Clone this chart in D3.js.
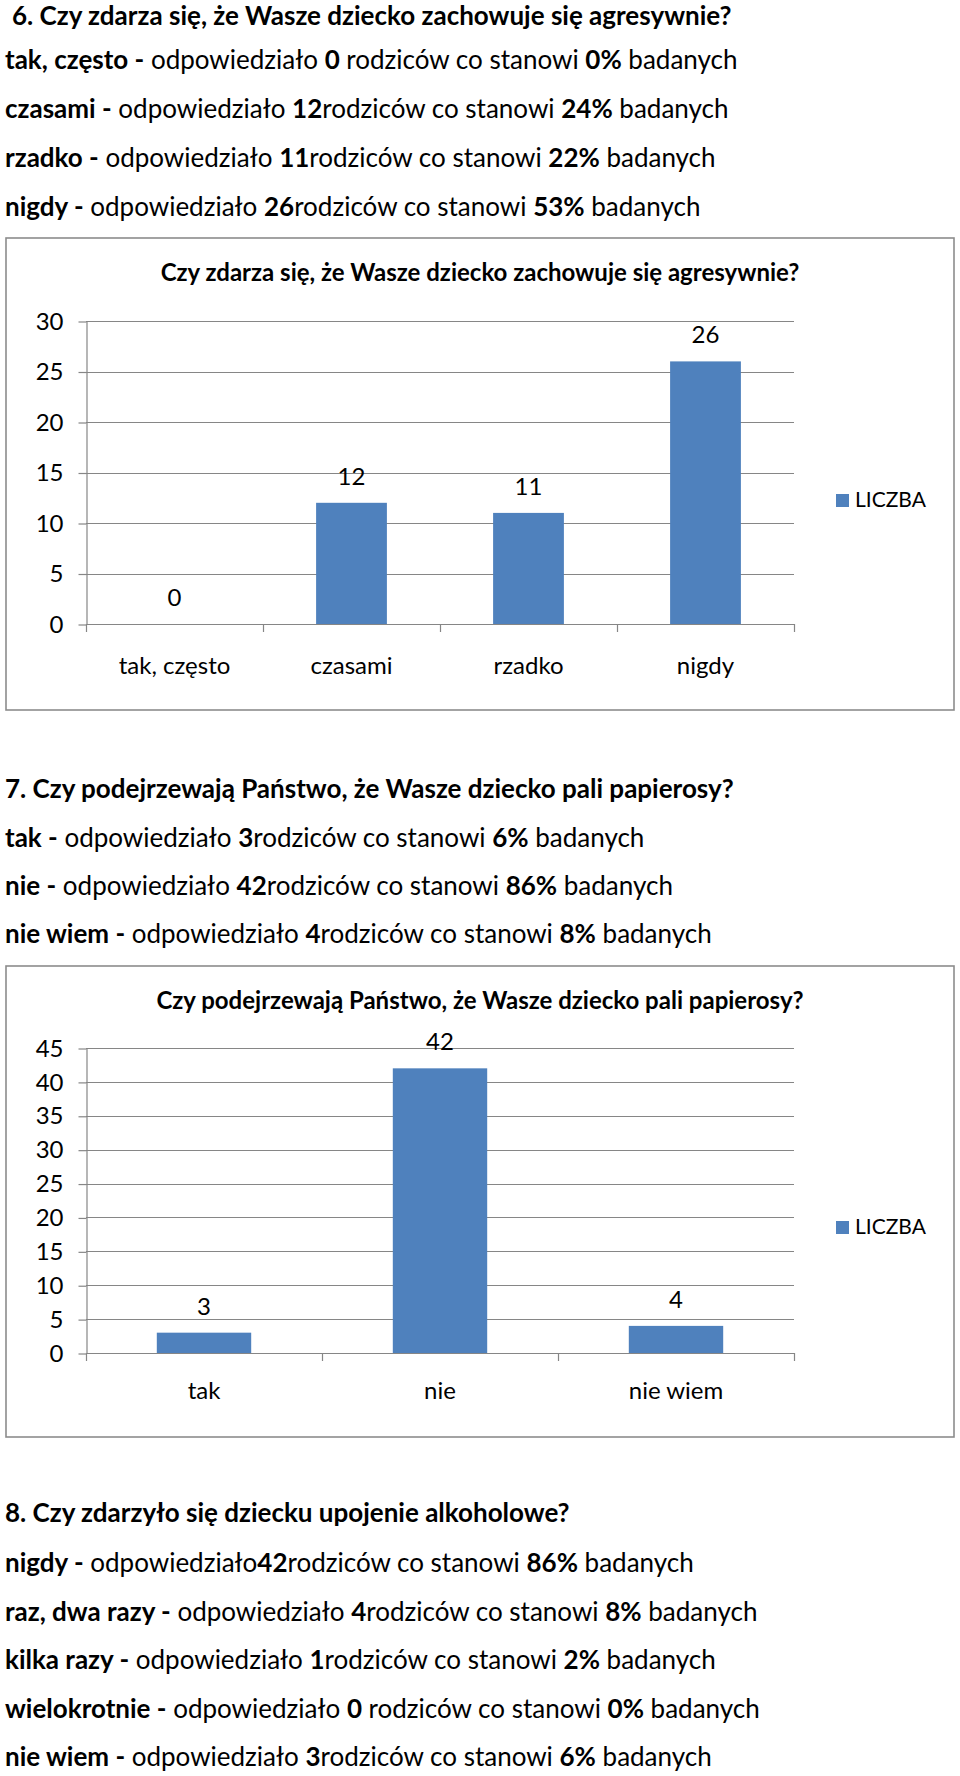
<!DOCTYPE html>
<html>
<head>
<meta charset="utf-8">
<script src="https://cdn.jsdelivr.net/npm/d3@7"></script>
<style>
  html, body { margin: 0; padding: 0; background: #fff; }
  svg { display: block; }
  text { font-family: Lato, "Open Sans", sans-serif; fill: #000; white-space: pre; }
</style>
</head>
<body>
<svg id="page" width="960" height="1776"></svg>
<script>
// ---------- DATA ----------
const q6Title = "Czy zdarza się, że Wasze dziecko zachowuje się agresywnie?";
const q6Categories = ["tak, często", "czasami", "rzadko", "nigdy"];
const q6Counts = [0, 12, 11, 26];
const q6Percents = [0, 24, 22, 53];
const q6SpaceBefore = [true, true, true, true];
const q6SpaceAfter = [true, false, false, false];
const q6Ticks = [0, 5, 10, 15, 20, 25, 30];

const q7Title = "Czy podejrzewają Państwo, że Wasze dziecko pali papierosy?";
const q7Categories = ["tak", "nie", "nie wiem"];
const q7Counts = [3, 42, 4];
const q7Percents = [6, 86, 8];
const q7SpaceBefore = [true, true, true];
const q7SpaceAfter = [false, false, false];
const q7Ticks = [0, 5, 10, 15, 20, 25, 30, 35, 40, 45];

const q8Title = "Czy zdarzyło się dziecku upojenie alkoholowe?";
const q8Categories = ["nigdy", "raz, dwa razy", "kilka razy", "wielokrotnie", "nie wiem"];
const q8Counts = [42, 4, 1, 0, 3];
const q8Percents = [86, 8, 2, 0, 6];
const q8SpaceBefore = [false, true, true, true, true];
const q8SpaceAfter = [false, false, false, true, false];

const seriesName = "LICZBA";

// ---------- STYLE ----------
const BAR = "#4F81BD";
const GRID = "#868686";
const FRAME = "#8C8C8C";
const BODY_SIZE = 26;
const TITLE_SIZE = 24;
const LABEL_SIZE = 24;
const svg = d3.select("#page");
svg.append("rect").attr("width", 960).attr("height", 1776).attr("fill", "#fff");

function textLine(x, y, segs) {
  const t = svg.append("text").attr("x", x).attr("y", y).attr("font-size", BODY_SIZE);
  segs.forEach(([s, b]) => t.append("tspan").attr("font-weight", b ? 700 : 400).text(s));
}

function section(num, title, cats, counts, pcts, sb, sa, headX, headY, firstY, gap) {
  textLine(headX, headY, [[num + ". " + title, true]]);
  cats.forEach((c, i) => {
    textLine(5, firstY + i * gap, [
      [c + " -", true],
      [" odpowiedziało" + (sb[i] ? " " : ""), false],
      [String(counts[i]), true],
      [(sa[i] ? " " : "") + "rodziców co stanowi ", false],
      [pcts[i] + "%", true],
      [" badanych", false]
    ]);
  });
}

function chart(opts) {
  const {frame, title, titleY, cats, counts, ticks, yTop, yBottom, xLeft, xRight, catY, legendY} = opts;
  const g = svg.append("g");
  g.append("rect").attr("x", frame[0]).attr("y", frame[1])
    .attr("width", frame[2] - frame[0]).attr("height", frame[3] - frame[1])
    .attr("fill", "#fff").attr("stroke", FRAME).attr("stroke-width", 1.6);

  g.append("text").attr("x", (frame[0] + frame[2]) / 2).attr("y", titleY)
    .attr("text-anchor", "middle").attr("font-size", TITLE_SIZE).attr("font-weight", 700).text(title);

  const yMax = ticks[ticks.length - 1];
  const y = d3.scaleLinear().domain([0, yMax]).range([yBottom, yTop]);
  const x = d3.scaleBand().domain(cats).range([xLeft, xRight]).paddingInner(0.6).paddingOuter(0.3);

  // gridlines
  g.append("g").selectAll("line").data(ticks).join("line")
    .attr("x1", xLeft).attr("x2", xRight)
    .attr("y1", d => Math.round(y(d)) + 0.5).attr("y2", d => Math.round(y(d)) + 0.5)
    .attr("stroke", GRID).attr("stroke-width", 1.2);

  // y axis
  const ya = g.append("g").attr("transform", `translate(${xLeft + 0.5},0.5)`)
    .call(d3.axisLeft(y).tickValues(ticks).tickSize(8).tickSizeOuter(0).tickPadding(15));
  ya.select(".domain").attr("stroke", GRID).attr("stroke-width", 1.2);
  ya.selectAll(".tick line").attr("stroke", GRID).attr("stroke-width", 1.2);
  ya.selectAll(".tick text").attr("font-family", "Lato, sans-serif").attr("font-size", LABEL_SIZE).attr("fill", "#000");
  ya.attr("font-family", null).attr("font-size", null);

  // x axis boundary ticks
  const bounds = d3.range(cats.length + 1).map(i => xLeft + i * x.step());
  g.append("g").selectAll("line").data(bounds).join("line")
    .attr("x1", d => Math.round(d) + 0.5).attr("x2", d => Math.round(d) + 0.5)
    .attr("y1", yBottom).attr("y2", yBottom + 8)
    .attr("stroke", GRID).attr("stroke-width", 1.2);

  // bars
  g.append("g").selectAll("rect").data(cats).join("rect")
    .attr("x", d => x(d)).attr("width", x.bandwidth())
    .attr("y", (d, i) => y(counts[i]))
    .attr("height", (d, i) => y(0) - y(counts[i]))
    .attr("fill", BAR);

  // value labels
  g.append("g").selectAll("text").data(cats).join("text")
    .attr("x", d => x(d) + x.bandwidth() / 2)
    .attr("y", (d, i) => y(counts[i]) - 18)
    .attr("text-anchor", "middle").attr("font-size", LABEL_SIZE)
    .text((d, i) => counts[i]);

  // category labels
  g.append("g").selectAll("text").data(cats).join("text")
    .attr("x", d => x(d) + x.bandwidth() / 2).attr("y", catY)
    .attr("text-anchor", "middle").attr("font-size", LABEL_SIZE).text(d => d);

  // legend
  g.append("rect").attr("x", 836).attr("y", legendY - 13).attr("width", 13).attr("height", 13).attr("fill", BAR);
  g.append("text").attr("x", 855).attr("y", legendY).attr("font-size", 21).text(seriesName);
}

// ---------- SECTIONS ----------
section(6, q6Title, q6Categories, q6Counts, q6Percents, q6SpaceBefore, q6SpaceAfter, 12, 25, 68.5, 49);
chart({frame: [6, 238, 954, 710], title: q6Title, titleY: 281, cats: q6Categories, counts: q6Counts,
  ticks: q6Ticks, yTop: 321, yBottom: 624, xLeft: 86, xRight: 794, catY: 674, legendY: 507});

section(7, q7Title, q7Categories, q7Counts, q7Percents, q7SpaceBefore, q7SpaceAfter, 5, 797.5, 846.5, 48);
chart({frame: [6, 966, 954, 1437], title: q7Title, titleY: 1009, cats: q7Categories, counts: q7Counts,
  ticks: q7Ticks, yTop: 1048, yBottom: 1353, xLeft: 86, xRight: 794, catY: 1399, legendY: 1234});

section(8, q8Title, q8Categories, q8Counts, q8Percents, q8SpaceBefore, q8SpaceAfter, 5, 1522, 1572, 48.6);
</script>
</body>
</html>
